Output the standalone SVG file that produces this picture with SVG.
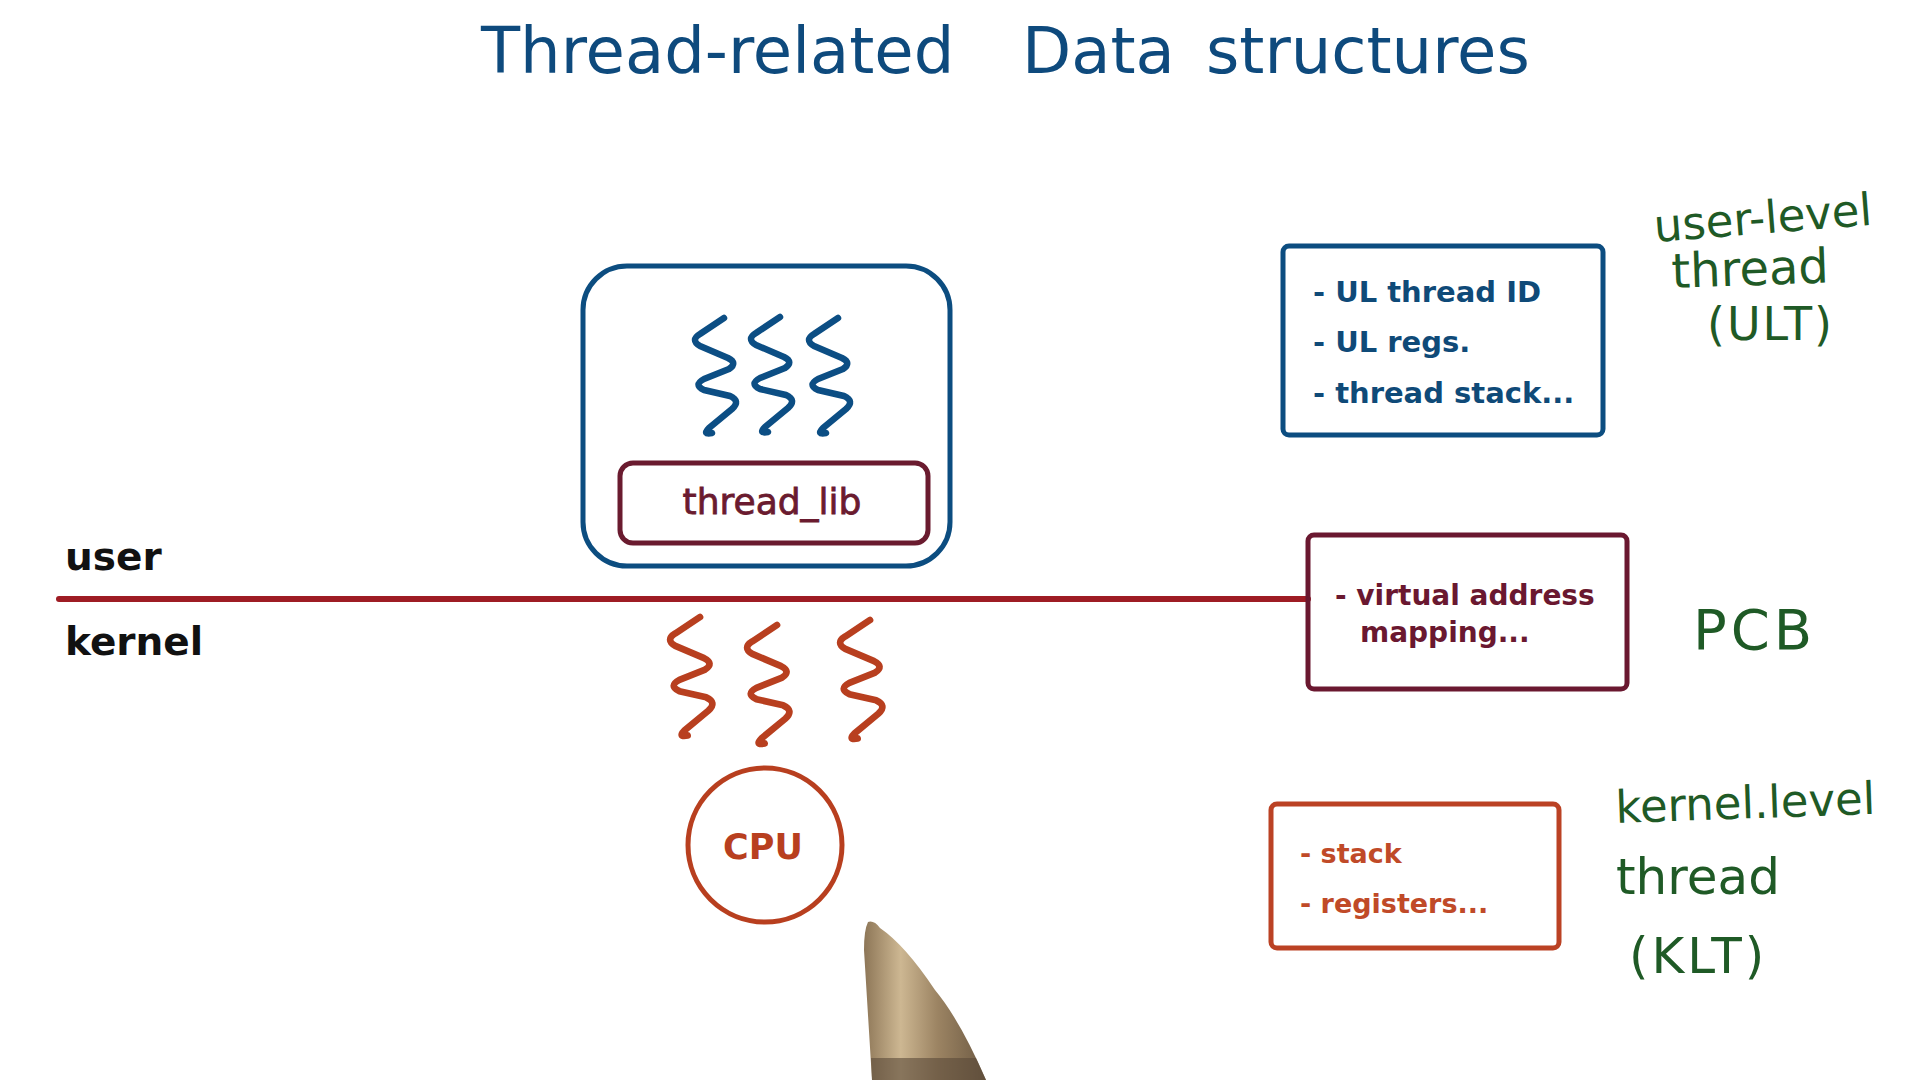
<svg xmlns="http://www.w3.org/2000/svg" width="1920" height="1080" viewBox="0 0 1920 1080">
<style>
  .hand { font-family: "DejaVu Sans", "Liberation Sans", sans-serif; }
  .title { fill: #0e4a7d; font-size: 64px; }
  .green { fill: #1f5a26; }
  .box { fill: none; stroke-width: 5; }
  .txt { font-family: "DejaVu Sans", "Liberation Sans", sans-serif; font-weight: bold; }
  .plain { font-family: "DejaVu Sans", "Liberation Sans", sans-serif; font-weight: normal; }
  .sq { fill: none; stroke-width: 6.5; stroke-linecap: round; stroke-linejoin: round; }
  .blue { stroke: #0c4e84; }
  .rust { stroke: #b83f1f; }
</style>
<defs>
  <path id="squiggle" d="M0,0 L-24,16 Q-34,22 -24,28 L4,40 Q14,45 5,51 L-20,61 Q-31,67 -20,72 L6,78 Q17,83 8,91 L-15,110 Q-22,117 -12,115"/>
  <linearGradient id="penGrad" x1="0" y1="0" x2="1" y2="0">
    <stop offset="0" stop-color="#8d7657"/>
    <stop offset="0.3" stop-color="#cdb792"/>
    <stop offset="0.6" stop-color="#9c8463"/>
    <stop offset="1" stop-color="#6d5a43"/>
  </linearGradient>
</defs>
<rect width="1920" height="1080" fill="#ffffff"/>

<g id="title" class="hand title">
  <text y="73"><tspan x="481">Thread-related </tspan><tspan x="1022">Data </tspan><tspan x="1206">structures</tspan></text>
</g>

<g id="connectors">
  <line x1="59" y1="599" x2="1308" y2="599" stroke="#9e1c24" stroke-width="6" stroke-linecap="round"/>
</g>

<g id="mode-labels" class="txt" fill="#111111" font-size="39">
  <text x="65" y="570">user</text>
  <text x="65" y="655">kernel</text>
</g>

<g id="process">
  <rect x="583" y="266" width="367" height="300" rx="44" class="box" stroke="#0c4d80" stroke-width="6"/>
  <g id="user-threads" class="sq blue">
    <use href="#squiggle" x="724" y="318"/>
    <use href="#squiggle" x="780" y="317"/>
    <use href="#squiggle" x="838" y="318"/>
  </g>
</g>

<g id="thread_lib">
  <rect x="620" y="463" width="308" height="80" rx="13" class="box" stroke="#6a1b2f"/>
  <text x="772" y="514" text-anchor="middle" class="plain" font-size="36" fill="#6a1b2f" stroke="#6a1b2f" stroke-width="0.8">thread_lib</text>
</g>

<g id="kernel-threads" class="sq rust">
  <use href="#squiggle" transform="translate(700,617) scale(1.03)"/>
  <use href="#squiggle" transform="translate(777,625) scale(1.03)"/>
  <use href="#squiggle" transform="translate(870,620) scale(1.03)"/>
</g>

<g id="cpu">
  <circle cx="765" cy="845" r="77" fill="none" stroke="#b83f1f" stroke-width="5"/>
  <text x="763" y="859" text-anchor="middle" class="txt" font-size="35" fill="#b83f1f">CPU</text>
</g>

<g id="ult-box">
  <rect x="1283" y="246" width="320" height="189" rx="6" class="box" stroke="#0c4d80"/>
  <g class="txt" font-size="29" fill="#0f4a78">
    <text x="1313" y="302">- UL thread ID</text>
    <text x="1313" y="352">- UL regs.</text>
    <text x="1313" y="403">- thread stack...</text>
  </g>
</g>

<g id="pcb-box">
  <rect x="1308" y="535" width="319" height="154" rx="6" class="box" stroke="#6a1830"/>
  <g class="txt" font-size="28" fill="#6a1830">
    <text x="1335" y="605">- virtual address</text>
    <text x="1360" y="642">mapping...</text>
  </g>
</g>

<g id="klt-box">
  <rect x="1271" y="804" width="288" height="144" rx="6" class="box" stroke="#bb4224"/>
  <g class="txt" font-size="27" fill="#c04a28">
    <text x="1300" y="863">- stack</text>
    <text x="1300" y="913">- registers...</text>
  </g>
</g>

<g id="ult-label" class="hand green">
  <text x="1655" y="242" font-size="45" transform="rotate(-4.5 1655 242)">user-level</text>
  <text x="1672" y="288" font-size="48" transform="rotate(-2 1672 288)">thread</text>
  <text x="1707" y="340" font-size="46" letter-spacing="2">(ULT)</text>
</g>

<g id="pcb-label" class="hand green">
  <text x="1693" y="649" font-size="56" letter-spacing="4">PCB</text>
</g>

<g id="klt-label" class="hand green">
  <text x="1616" y="823" font-size="45" transform="rotate(-2 1616 823)">kernel.level</text>
  <text x="1616" y="894" font-size="50">thread</text>
  <text x="1629" y="973" font-size="50" letter-spacing="3">(KLT)</text>
</g>

<path d="M868,922 Q864,930 864,950 L872,1080 L986,1080 Q960,1020 935,990 Q905,945 880,928 Q874,920 868,922 Z" fill="url(#penGrad)"/>
<path d="M871,1058 L976,1058 Q981,1069 986,1080 L872,1080 Z" fill="#5a4a38" opacity="0.6"/>
</svg>
